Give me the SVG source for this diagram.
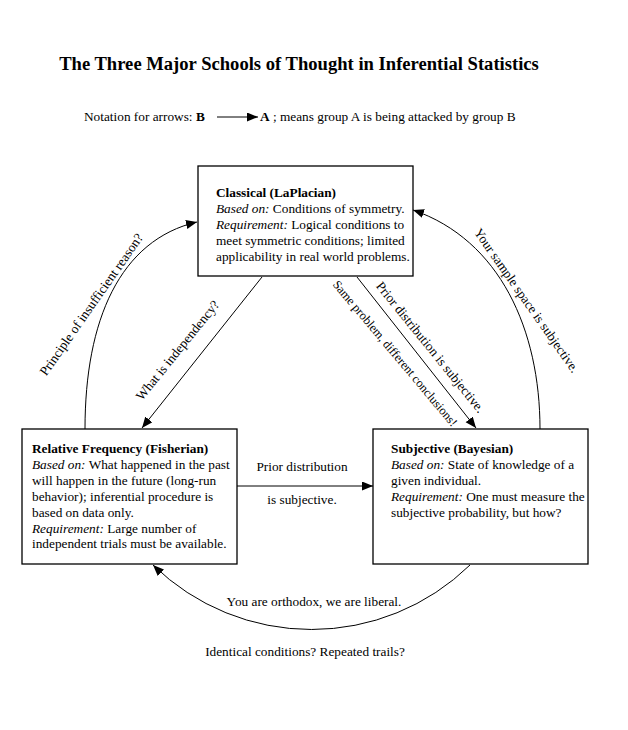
<svg xmlns="http://www.w3.org/2000/svg" width="628" height="730" viewBox="0 0 628 730">
<style>
text{font-family:"Liberation Serif","Times New Roman",serif;font-size:13.3px;fill:#000}
.title{font-size:18.6px;font-weight:bold}
.b{font-weight:bold}
.i{font-style:italic}
.sm{font-size:12.4px}
.box{fill:#fff;stroke:#000;stroke-width:1.3}
.con{fill:none;stroke:#000;stroke-width:1;marker-end:url(#ah)}
</style>
<defs>
<marker id="ah" markerUnits="userSpaceOnUse" markerWidth="12" markerHeight="10" refX="11" refY="4.5" orient="auto">
<path d="M0,0 L11,4.5 L0,9 z" fill="#000"/>
</marker>
</defs>
<rect width="628" height="730" fill="#fff"/>
<text class="title" x="299" y="70" text-anchor="middle">The Three Major Schools of Thought in Inferential Statistics</text>
<g id="legend">
<text x="84" y="121">Notation for arrows:</text>
<text class="b" x="196" y="121">B</text>
<line class="con" x1="217" y1="117" x2="258" y2="117"/>
<text x="260" y="121"><tspan class="b">A</tspan> ; means group A is being attacked by group B</text>
</g>
<g id="connectors">
<path class="con" d="M85,429 C85,320 120,240 197,222"/>
<path class="con" d="M540,429 C540,330 500,240 413,210"/>
<path class="con" d="M470,565 A227,227 0 0 1 153,565"/>
<line class="con" x1="262" y1="277" x2="142" y2="428"/>
<line class="con" x1="357" y1="277" x2="476" y2="428"/>
<line class="con" x1="237" y1="486" x2="373" y2="486"/>
<text transform="translate(95,307) rotate(-55)" text-anchor="middle">Principle of insufficient reason?</text>
<text transform="translate(181,353) rotate(-51)" text-anchor="middle">What is independency?</text>
<text transform="translate(427,350) rotate(51)" text-anchor="middle">Prior distribution is subjective.</text>
<text class="sm" transform="translate(392,356) rotate(50)" text-anchor="middle">Same problem, different conclusions!</text>
<text transform="translate(523,303) rotate(55)" text-anchor="middle">Your sample space is subjective.</text>
<text x="302" y="471" text-anchor="middle">Prior distribution</text>
<text x="302" y="504" text-anchor="middle">is subjective.</text>
<text x="314" y="606" text-anchor="middle">You are orthodox, we are liberal.</text>
<text x="305" y="656" text-anchor="middle">Identical conditions? Repeated trails?</text>
</g>
<g id="classical">
<rect class="box" x="198" y="166" width="215" height="110"/>
<text x="216" y="197" class="b">Classical (LaPlacian)</text>
<text x="216" y="213"><tspan class="i">Based on:</tspan> Conditions of symmetry.</text>
<text x="216" y="229"><tspan class="i">Requirement:</tspan> Logical conditions to</text>
<text x="216" y="245">meet symmetric conditions; limited</text>
<text x="216" y="261">applicability in real world problems.</text>
</g>
<g id="relative">
<rect class="box" x="22" y="429" width="215" height="135"/>
<text x="32" y="453" class="b">Relative Frequency (Fisherian)</text>
<text x="32" y="469"><tspan class="i">Based on:</tspan>  What happened in the past</text>
<text x="32" y="485">will happen in the future (long-run</text>
<text x="32" y="501">behavior); inferential procedure is</text>
<text x="32" y="517">based on data only.</text>
<text x="32" y="533"><tspan class="i">Requirement:</tspan>  Large number of</text>
<text x="32" y="548">independent trials must be available.</text>
</g>
<g id="subjective">
<rect class="box" x="373" y="429" width="215" height="135"/>
<text x="391" y="453" class="b">Subjective (Bayesian)</text>
<text x="391" y="469"><tspan class="i">Based on:</tspan> State of knowledge of a</text>
<text x="391" y="485">given individual.</text>
<text x="391" y="501"><tspan class="i">Requirement:</tspan> One must measure the</text>
<text x="391" y="517">subjective probability, but how?</text>
</g>
</svg>
